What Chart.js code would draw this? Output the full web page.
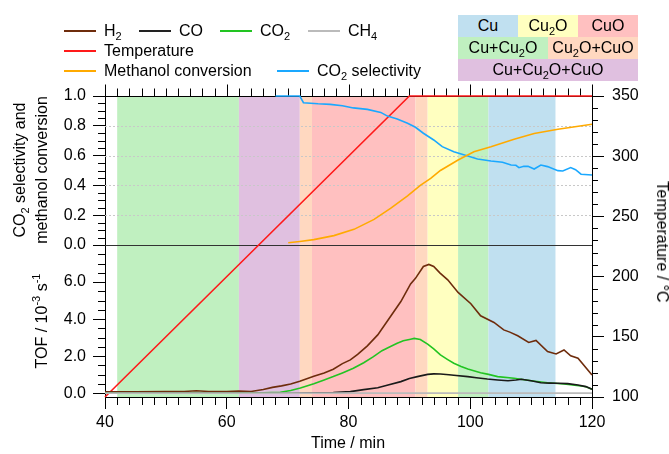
<!DOCTYPE html>
<html>
<head>
<meta charset="utf-8">
<script src="https://cdn.jsdelivr.net/npm/chart.js@4/dist/chart.umd.min.js"></script>
<style>
  body { margin: 0; background: #fff; }
  #wrap { position: relative; width: 669px; height: 454px; font-family: "Liberation Sans", Arial, sans-serif; color: #000; }
  canvas { position: absolute; left: 0; top: 0; }
  sub { font-size: 11px; vertical-align: -4px; line-height: 0; }
  sup { font-size: 11px; vertical-align: 7px; line-height: 0; }
  .lg { position: absolute; display: flex; align-items: center; transform: translateY(-50%); font-size: 16px; white-space: nowrap; }
  .lg i { display: inline-block; width: 32px; height: 2px; margin-right: 8px; }
  .ph { position: absolute; display: flex; align-items: center; justify-content: center; font-size: 16px; white-space: nowrap; }
  .ttl { position: absolute; font-size: 16px; white-space: nowrap; text-align: center; line-height: 22px; }
</style>
</head>
<body>
<div id="wrap">
  <canvas id="chart" width="669" height="454"></canvas>

  <!-- series legend -->
  <div class="lg" style="left:64px;top:31px"><i style="background:#6e2c0c"></i><span>H<sub>2</sub></span></div>
  <div class="lg" style="left:139px;top:31px"><i style="background:#222"></i><span>CO</span></div>
  <div class="lg" style="left:220px;top:31px"><i style="background:#22c422"></i><span>CO<sub>2</sub></span></div>
  <div class="lg" style="left:308px;top:31px"><i style="background:#bbb"></i><span>CH<sub>4</sub></span></div>
  <div class="lg" style="left:64px;top:51px"><i style="background:#ff1a1a"></i><span>Temperature</span></div>
  <div class="lg" style="left:64px;top:71px"><i style="background:#ffaa00"></i><span>Methanol conversion</span></div>
  <div class="lg" style="left:277px;top:71px"><i style="background:#1aa8ff"></i><span>CO<sub>2</sub> selectivity</span></div>

  <!-- phase legend -->
  <div class="ph" style="left:458px;top:15px;width:60px;height:22px;background:#c0e0f0"><span>Cu</span></div>
  <div class="ph" style="left:518px;top:15px;width:60px;height:22px;background:#ffffc0"><span>Cu<sub>2</sub>O</span></div>
  <div class="ph" style="left:578px;top:15px;width:60px;height:22px;background:#ffc0c0"><span>CuO</span></div>
  <div class="ph" style="left:458px;top:37px;width:90px;height:22px;background:#c0f0c0"><span>Cu+Cu<sub>2</sub>O</span></div>
  <div class="ph" style="left:548px;top:37px;width:90px;height:22px;background:#ffd8c0"><span>Cu<sub>2</sub>O+CuO</span></div>
  <div class="ph" style="left:458px;top:59px;width:180px;height:22px;background:#e0c0e0"><span>Cu+Cu<sub>2</sub>O+CuO</span></div>

  <!-- axis titles -->
  <div class="ttl" style="left:31px;top:170px;transform:translate(-50%,-50%) rotate(-90deg)">CO<sub>2</sub> selectivity and<br>methanol conversion</div>
  <div class="ttl" style="left:42px;top:321px;transform:translate(-50%,-50%) rotate(-90deg)">TOF / 10<sup>-3</sup> s<sup>-1</sup></div>
  <div class="ttl" style="left:662px;top:242px;transform:translate(-50%,-50%) rotate(90deg)">Temperature / °C</div>
  <div class="ttl" style="left:348px;top:443px;transform:translate(-50%,-50%)">Time / min</div>
</div>

<script>
// ---- data (time in min) ----
const tempTime = [40, 90, 120];
const tempValue = [100, 350, 350];

const methTime = [70.1, 72, 74.3, 77.6, 80.9, 84.2, 86.9, 89.7, 91.8, 93.5, 95.1, 98, 100.6, 103.4, 107.2, 110.5, 114.4, 120];
const methValue = [0.015, 0.024, 0.036, 0.063, 0.105, 0.172, 0.246, 0.329, 0.40, 0.447, 0.50, 0.57, 0.626, 0.66, 0.71, 0.748, 0.777, 0.81];

const selTime = [68, 72, 72.6, 75, 77, 79, 80.8, 83.1, 85.3, 86.4, 88, 89.7, 91, 92.3, 94, 95.4, 97.3, 99.6, 101.2, 103.4,
  105.3, 106.7, 107.5, 108, 108.8, 109.5, 110.5, 111.6, 112.7, 114.4, 115.2, 116.5, 117.3, 118.2, 120];
const selValue = [1.0, 1.0, 0.955, 0.948, 0.944, 0.935, 0.92, 0.91, 0.89, 0.865, 0.845, 0.817, 0.79, 0.75, 0.705, 0.66, 0.626, 0.597, 0.577, 0.564,
  0.555, 0.537, 0.535, 0.519, 0.528, 0.528, 0.51, 0.537, 0.526, 0.499, 0.497, 0.52, 0.505, 0.475, 0.47];

const h2Time = [40, 45, 50, 53, 55, 57, 60, 62, 64, 66, 67.5, 69, 70.5, 72, 74.3, 76, 77.5, 79, 80.3, 81.5, 83.1, 84.8, 86.9, 88.6,
  90.2, 91, 92.3, 93.2, 94, 95, 96.3, 98, 100.1, 101.7, 103.9, 105.5, 106.5, 107.8, 109.6, 110.8, 112.7, 114.1, 115.4, 116.5, 117.7, 120];
const h2Value = [0.08, 0.08, 0.09, 0.1, 0.14, 0.1, 0.1, 0.12, 0.1, 0.2, 0.32, 0.4, 0.5, 0.65, 0.92, 1.1, 1.3, 1.6, 1.8, 2.1, 2.56, 3.15, 4.14, 4.95,
  5.9, 6.2, 6.84, 6.95, 6.84, 6.5, 6.12, 5.44, 4.83, 4.18, 3.82, 3.42, 3.3, 3.1, 2.74, 2.85, 2.25, 2.12, 2.34, 2.02, 1.89, 0.99];

const coTime = [40, 70, 75, 77.5, 80.3, 82.5, 84.8, 86.5, 88.6, 90, 91.3, 93, 94, 95.1, 96.5, 97.3, 99.6, 101, 102.8, 104.5,
  106.2, 107.5, 108.4, 110, 111.6, 113, 114.4, 116, 117.7, 119, 120];
const coValue = [0.0, 0.0, 0.02, 0.04, 0.09, 0.2, 0.3, 0.45, 0.63, 0.8, 0.9, 1.02, 1.05, 1.04, 1.0, 0.97, 0.9, 0.84, 0.77, 0.72,
  0.68, 0.72, 0.76, 0.68, 0.57, 0.55, 0.54, 0.52, 0.45, 0.36, 0.22];

const co2Time = [40, 64, 66, 68.8, 70.5, 72.1, 74.3, 76, 77.5, 79, 80.8, 82.5, 84.1, 85.5, 86.9, 88, 89, 90.2, 90.8, 91.8, 93, 94,
  95.1, 96.3, 97.3, 98.5, 99.6, 101.7, 103, 104.5, 107.2, 110, 112.7, 115.4, 118.2, 119, 120];
const co2Value = [0.02, 0.02, 0.03, 0.06, 0.15, 0.28, 0.52, 0.72, 0.9, 1.1, 1.35, 1.65, 1.98, 2.3, 2.52, 2.7, 2.84, 2.92, 2.96, 2.9, 2.65, 2.4,
  2.07, 1.82, 1.62, 1.45, 1.31, 1.11, 1.02, 0.9, 0.81, 0.68, 0.57, 0.5, 0.39, 0.35, 0.22];

const ch4Time = [40, 120];
const ch4Value = [0.01, 0.01];

// oxide phase regions along the time axis
const phaseStart = [42, 62, 72, 74, 91, 93, 98, 103];
const phaseEnd = [62, 72, 74, 91, 93, 98, 103, 114];
const phaseName = ['Cu+Cu2O', 'Cu+Cu2O+CuO', 'Cu2O+CuO', 'CuO', 'Cu2O+CuO', 'Cu2O', 'Cu+Cu2O', 'Cu'];
const phaseColors = {
  'Cu': '#c0e0f0', 'Cu2O': '#ffffc0', 'CuO': '#ffc0c0',
  'Cu+Cu2O': '#c0f0c0', 'Cu2O+CuO': '#ffd8c0', 'Cu+Cu2O+CuO': '#e0c0e0'
};

const pts = (t, v) => t.map((x, i) => ({ x, y: v[i] }));
const FONT = { family: "'Liberation Sans', Arial, sans-serif", size: 16 };

function line(label, t, v, color, axis) {
  return { label, data: pts(t, v), borderColor: color, yAxisID: axis, borderWidth: 1.6, pointRadius: 0, tension: 0, clip: 3 };
}

// phase bands, dotted grid, top frame, minor/mirror ticks
const axisExtras = {
  id: 'axisExtras',
  beforeDraw(chart) {
    const { ctx, chartArea: a, scales: { x } } = chart;
    ctx.save();
    phaseStart.forEach((s, i) => {
      const x0 = x.getPixelForValue(s), x1 = x.getPixelForValue(phaseEnd[i]);
      ctx.fillStyle = phaseColors[phaseName[i]];
      ctx.fillRect(x0, a.top, x1 - x0, a.bottom - a.top);
    });
    ctx.restore();
  },
  beforeDatasetsDraw(chart) {
    const { ctx, chartArea: a, scales: { x, frac, tof, temp } } = chart;
    ctx.save();
    ctx.lineWidth = 1;
    ctx.strokeStyle = '#c8c8c8';
    ctx.setLineDash([2, 2]);
    for (let k = 2; k <= 8; k += 2) {
      const y = Math.round(frac.getPixelForValue(k / 10)) + 0.5;
      ctx.beginPath(); ctx.moveTo(a.left, y); ctx.lineTo(a.right, y); ctx.stroke();
    }
    ctx.setLineDash([]);
    ctx.strokeStyle = '#333';
    const y0 = Math.round(frac.getPixelForValue(0)) + 0.5;
    ctx.beginPath(); ctx.moveTo(a.left, y0); ctx.lineTo(a.right, y0); ctx.stroke();

    ctx.strokeStyle = '#000';
    const seg = (x1, y1, x2, y2) => { ctx.beginPath(); ctx.moveTo(x1, y1); ctx.lineTo(x2, y2); ctx.stroke(); };
    const top = Math.round(a.top) + 0.5;
    seg(a.left, top, a.right, top);
    for (let t = 40; t <= 120; t += 2) {
      const px = Math.round(x.getPixelForValue(t)) + 0.5;
      const major = t % 20 === 0;
      seg(px, top, px, top - (major ? 12 : 8));
      if (!major) seg(px, a.bottom, px, a.bottom + 8);
    }
    const lx = a.left;
    for (let k = 1; k < 20; k++) {
      if (k % 4 === 0) continue;
      const py = Math.round(frac.getPixelForValue(k * 0.05)) + 0.5;
      seg(lx, py, lx - 7, py);
    }
    for (let k = 1; k < 16; k++) {
      if (k % 4 === 0) continue;
      const py = Math.round(tof.getPixelForValue(k * 0.5)) + 0.5;
      seg(lx, py, lx - 7, py);
    }
    for (let d = 110; d < 350; d += 10) {
      if (d % 50 === 0) continue;
      const py = Math.round(temp.getPixelForValue(d)) + 0.5;
      seg(a.right, py, a.right + 6, py);
    }
    ctx.restore();
  }
};

const tickOpts = { font: FONT, color: '#000', autoSkip: false, maxRotation: 0 };
const gridOpts = { drawOnChartArea: false, tickLength: 12, color: '#000', tickColor: '#000' };

new Chart(document.getElementById('chart'), {
  type: 'line',
  data: {
    datasets: [
      line('CH4', ch4Time, ch4Value, '#bbbbbb', 'tof'),
      line('CO', coTime, coValue, '#1a1a1a', 'tof'),
      line('CO2', co2Time, co2Value, '#22c422', 'tof'),
      line('H2', h2Time, h2Value, '#6e2c0c', 'tof'),
      line('Methanol conversion', methTime, methValue, '#ffaa00', 'frac'),
      line('CO2 selectivity', selTime, selValue, '#1aa8ff', 'frac'),
      line('Temperature', tempTime, tempValue, '#ff1a1a', 'temp')
    ]
  },
  options: {
    responsive: false,
    animation: false,
    layout: { padding: { top: 96, left: 0, right: 0, bottom: 0 } },
    plugins: { legend: { display: false }, tooltip: { enabled: false } },
    scales: {
      x: {
        type: 'linear', min: 40, max: 120,
        ticks: { ...tickOpts, stepSize: 20, padding: 4 },
        grid: gridOpts, border: { color: '#000' },
        afterFit: s => { s.height = 57; }
      },
      tof: {
        type: 'linear', position: 'left', stack: 'left', stackWeight: 152,
        min: -0.2, max: 8,
        ticks: { ...tickOpts, stepSize: 2, padding: 7, includeBounds: false,
          callback: v => (v >= 8 ? '' : v.toFixed(1)) },
        grid: gridOpts, border: { color: '#000' },
        afterFit: s => { s.width = 105; }
      },
      frac: {
        type: 'linear', position: 'left', stack: 'left', stackWeight: 149,
        min: 0, max: 1,
        ticks: { ...tickOpts, stepSize: 0.2, padding: 7, callback: v => v.toFixed(1) },
        grid: gridOpts, border: { color: '#000' },
        afterFit: s => { s.width = 105; }
      },
      temp: {
        type: 'linear', position: 'right', min: 100, max: 350,
        ticks: { ...tickOpts, stepSize: 50, padding: 8 },
        grid: gridOpts, border: { color: '#000' },
        afterFit: s => { s.width = 77; }
      }
    }
  },
  plugins: [axisExtras]
});
</script>
</body>
</html>
